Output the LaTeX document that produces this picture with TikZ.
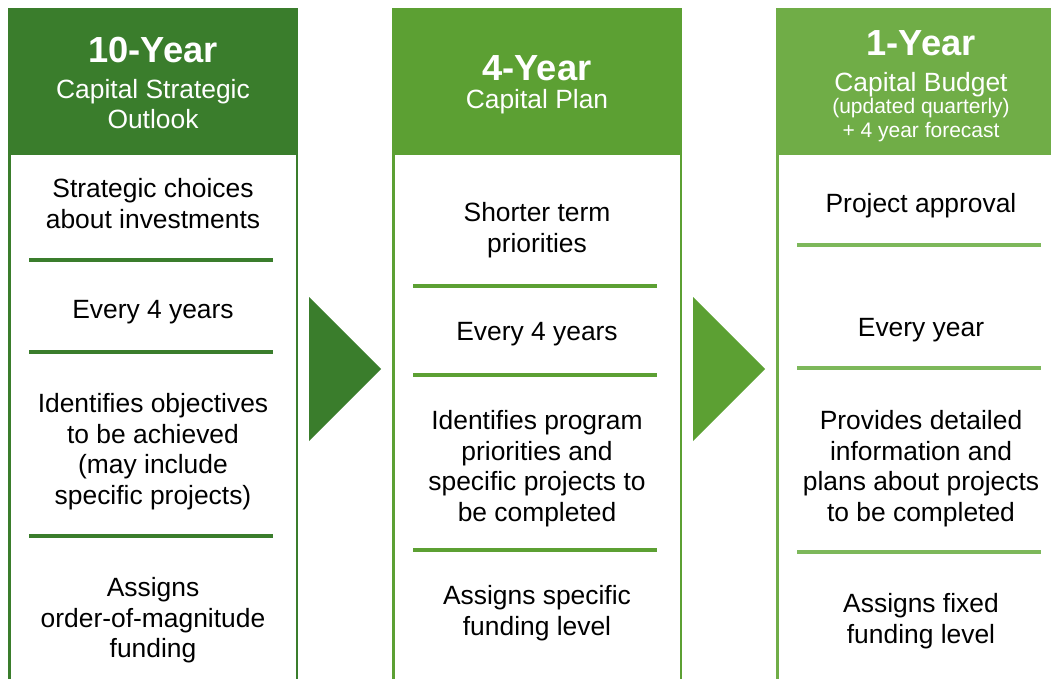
\documentclass[tikz,border=0pt]{standalone}
\usepackage{fontspec}
\setmainfont{Liberation Sans}
\definecolor{gA}{HTML}{3A7D2C}
\definecolor{gB}{HTML}{5CA033}
\definecolor{gC}{HTML}{70AD47}
\definecolor{gCline}{HTML}{7DB85B}
\begin{document}
\begin{tikzpicture}[x=1pt,y=-1pt,
  body/.style={font=\fontsize{26.4}{30.8}\selectfont, align=center, inner sep=0pt, anchor=north, text=black},
  title/.style={font=\fontsize{36.3}{40}\selectfont\bfseries, align=center, inner sep=0pt, anchor=north, text=white},
  sub/.style={font=\fontsize{26.4}{30.5}\selectfont, align=center, inner sep=0pt, anchor=north, text=white},
  small/.style={font=\fontsize{21}{24}\selectfont, align=center, inner sep=0pt, anchor=north, text=white},
  frame/.style={line width=2.5pt},
  sep/.style={line width=4pt},
  ]
\path[use as bounding box, clip] (0,0) rectangle (1051,679);

% column 1: 10-year outlook
\fill[gA] (8,8) rectangle (298,155);
\draw[frame, gA] (9.25,9.25) rectangle (296.75,700);
\draw[sep, gA] (29,260) -- (273,260);
\draw[sep, gA] (29,352) -- (273,352);
\draw[sep, gA] (29,536) -- (273,536);
\node[title] (t1) at (153,37) {10-Year};
\node[sub] (s1) at (153,79) {Capital Strategic\\Outlook};
\node[body] (a1) at (153,178) {Strategic choices\\about investments};
\node[body] (b1) at (153,300) {Every 4 years};
\node[body] (c1) at (153,393) {Identifies objectives\\to be achieved\\(may include\\specific projects)};
\node[body] (d1) at (153,577) {Assigns\\order-of-magnitude\\funding};

% arrow 1
\fill[gA] (309,297) -- (381,369) -- (309,441) -- cycle;

% column 2: 4-year plan
\fill[gB] (392,8) rectangle (682,155);
\draw[frame, gB] (393.25,9.25) rectangle (680.75,700);
\draw[sep, gB] (413,286) -- (657,286);
\draw[sep, gB] (413,375) -- (657,375);
\draw[sep, gB] (413,550) -- (657,550);
\node[title] (t2) at (537,55) {4-Year};
\node[sub] (s2) at (537,89) {Capital Plan};
\node[body] (a2) at (537,202) {Shorter term\\priorities};
\node[body] (b2) at (537,322) {Every 4 years};
\node[body] (c2) at (537,410) {Identifies program\\priorities and\\specific projects to\\be completed};
\node[body] (d2) at (537,585) {Assigns specific\\funding level};

% arrow 2
\fill[gB] (693,297) -- (765,369) -- (693,441) -- cycle;

% column 3: 1-year budget
\fill[gC] (776,8) rectangle (1070,155);
\draw[frame, gC] (777.25,9.25) rectangle (1070,700);
\draw[sep, gCline] (797,245) -- (1041,245);
\draw[sep, gCline] (797,368) -- (1041,368);
\draw[sep, gCline] (797,552) -- (1041,552);
\node[title] (t3) at (921,30) {1-Year};
\node[sub] (s3) at (921,72) {Capital Budget};
\node[small] (u3) at (921,98) {(updated quarterly)\\+ 4 year forecast};
\node[body] (a3) at (921,193) {Project approval};
\node[body] (b3) at (921,318) {Every year};
\node[body] (c3) at (921,410) {Provides detailed\\information and\\plans about projects\\to be completed};
\node[body] (d3) at (921,593) {Assigns fixed\\funding level};
\end{tikzpicture}
\end{document}
